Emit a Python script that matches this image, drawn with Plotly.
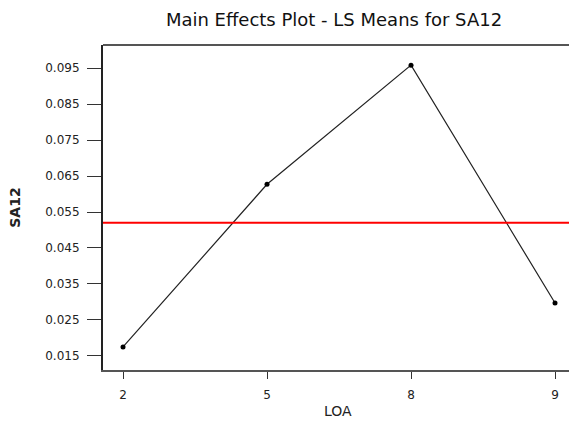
import plotly.graph_objects as go

# LS means of SA12 for each LOA level
loa_levels = ["2", "5", "8", "9"]
sa12_means = [0.0175, 0.0627, 0.0958, 0.0297]
grand_mean = 0.0520

y_ticks = [0.015, 0.025, 0.035, 0.045, 0.055, 0.065, 0.075, 0.085, 0.095]
y_tick_text = ["0.015", "0.025", "0.035", "0.045", "0.055", "0.065", "0.075", "0.085", "0.095"]

fig = go.Figure()
fig.add_trace(go.Scatter(
    x=loa_levels, y=sa12_means, mode="lines+markers",
    line=dict(color="#222", width=1.2),
    marker=dict(color="black", size=5, symbol="circle"),
    showlegend=False,
))
fig.add_hline(y=grand_mean, line=dict(color="#ff0000", width=2))

fig.update_layout(
    width=569, height=421,
    margin=dict(l=103, r=0, t=45, b=51),
    paper_bgcolor="white", plot_bgcolor="white",
    font=dict(family="DejaVu Sans, sans-serif", size=12, color="#222"),
    title=dict(text="Main Effects Plot - LS Means for SA12", x=334 / 569, xanchor="center",
               y=1 - 20 / 421, yanchor="middle", font=dict(size=18, color="#111")),
)
fig.update_xaxes(
    type="category", range=[-0.139, 3.097], automargin=False,
    showline=True, linecolor="#555", linewidth=2, mirror=False,
    ticks="outside", ticklen=7, tickcolor="#333", ticklabelstandoff=6,
    showgrid=False, zeroline=False,
)
fig.update_yaxes(
    range=[0.0111, 0.1014], tickvals=y_ticks, ticktext=y_tick_text, automargin=False,
    showline=True, linecolor="#222", linewidth=2,
    ticks="outside", ticklen=14, tickcolor="#333", ticklabelstandoff=5,
    showgrid=False, zeroline=False,
    title=dict(text="<b>SA12</b>", standoff=21, font=dict(size=14)),
)
# x axis title, set low against the bottom edge of the page
fig.add_annotation(text="LOA", xref="paper", yref="paper", x=235 / 466, y=-51 / 325,
                   xanchor="center", yanchor="bottom", showarrow=False,
                   font=dict(size=14, color="#222"))
# top frame line
fig.add_shape(type="line", xref="paper", yref="paper", x0=0, x1=1, y0=1, y1=1,
              line=dict(color="#555", width=2))

fig.write_html("out.html")
